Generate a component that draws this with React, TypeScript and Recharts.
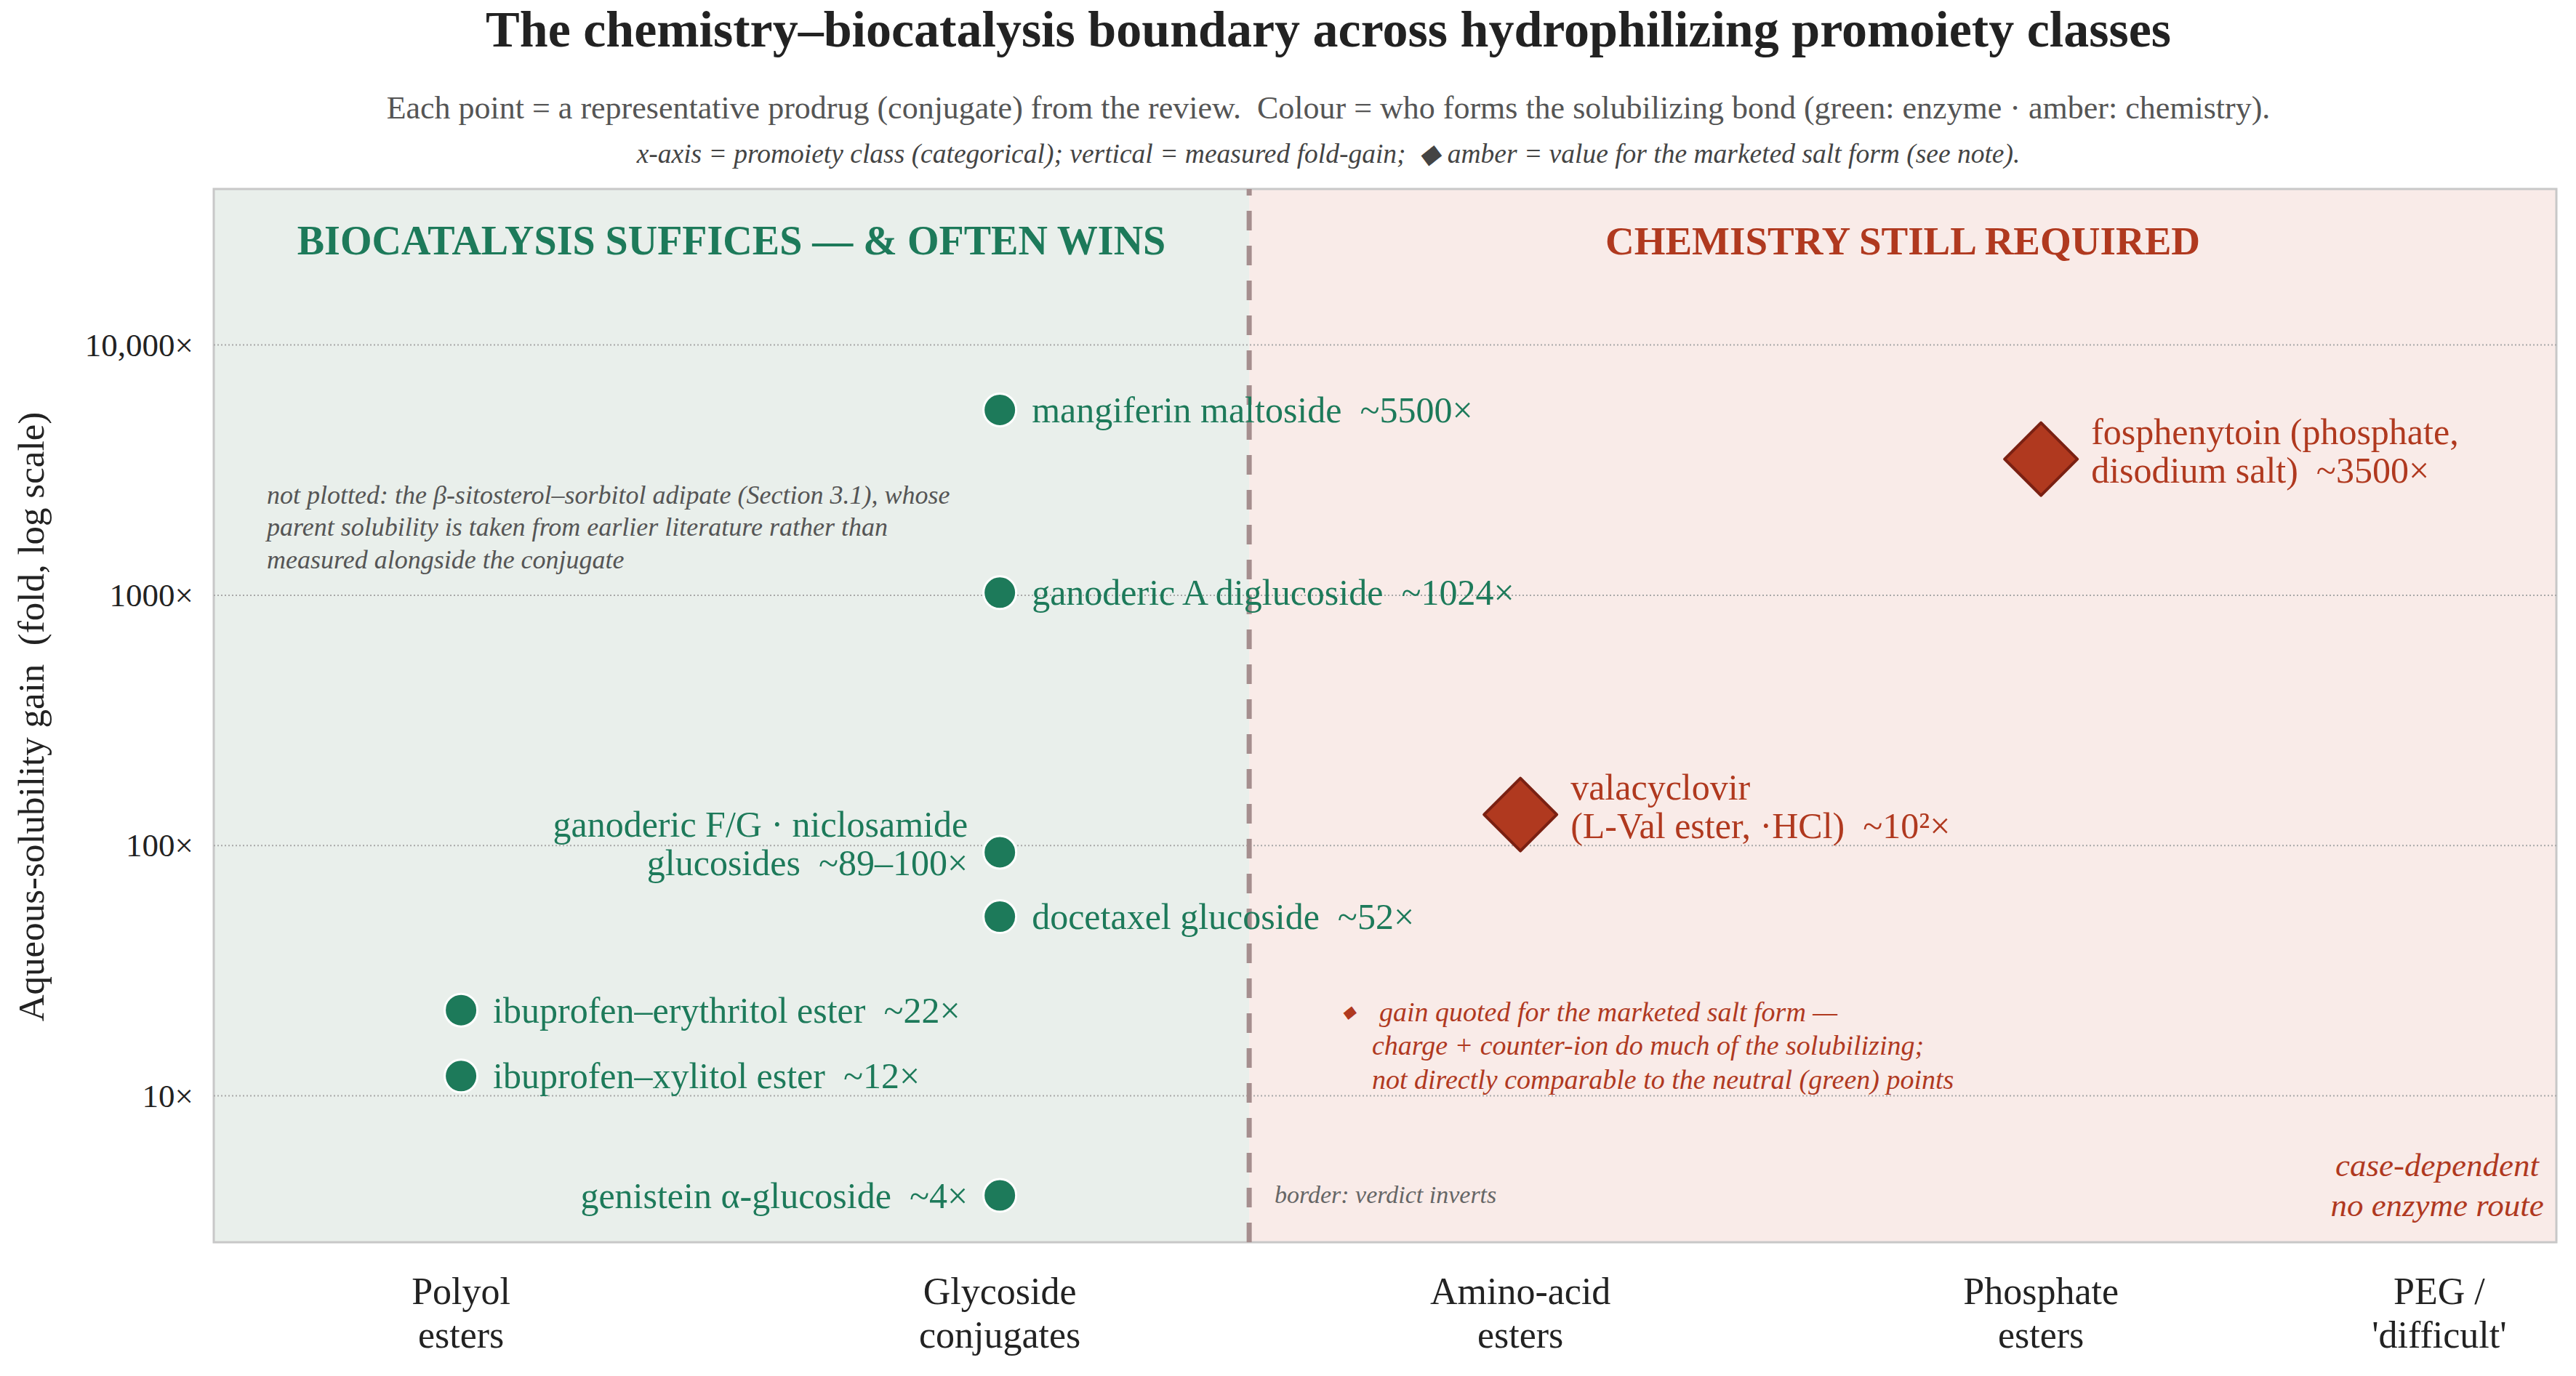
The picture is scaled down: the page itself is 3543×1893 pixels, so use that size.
import React from "react";
import { ScatterChart, Scatter, XAxis, YAxis, ReferenceArea, ReferenceLine } from "recharts";

const W = 3543;
const H = 1893;
const SERIF = "'Liberation Serif', 'Times New Roman', serif";
const GREEN = "#1d7a5a";
const RED = "#b0391f";
const INK = "#222222";
const PRE = { whiteSpace: "pre" } as const;

// promoiety classes (x is categorical, PEG sits a little closer in)
const categories = ["Polyol\nesters", "Glycoside\nconjugates", "Amino-acid\nesters", "Phosphate\nesters", "PEG /\n'difficult'"];
const categoryX = [-0.035, 1, 2, 3, 3.765];

// enzyme-formed conjugates (green); class = index into categories
const enzymeClass = [1, 1, 1, 1, 0, 0, 1];
const enzymeGain = [5500, 1024, 94, 52, 22, 12, 4];
const enzymeLabels = [
  ["mangiferin maltoside  ~5500×"],
  ["ganoderic A diglucoside  ~1024×"],
  ["ganoderic F/G · niclosamide", "glucosides  ~89–100×"],
  ["docetaxel glucoside  ~52×"],
  ["ibuprofen–erythritol ester  ~22×"],
  ["ibuprofen–xylitol ester  ~12×"],
  ["genistein α-glucoside  ~4×"],
];
const enzymeLabelSide = ["right", "right", "left", "right", "right", "right", "left"];

// chemistry-formed conjugates (amber, marketed salt form)
const chemClass = [2, 3];
const chemGain = [133, 3500];
const chemLabels = [
  ["valacyclovir", "(L-Val ester, ·HCl)  ~10²×"],
  ["fosphenytoin (phosphate,", "disodium salt)  ~3500×"],
];

const yTicks = [10, 100, 1000, 10000];
const yTickLabels = ["10×", "100×", "1000×", "10,000×"];
const xDomain = [-0.51, 3.99];
const yDomain = [2.6, 42000];
const border = 1.479;

const enzymeData = enzymeGain.map((g, i) => ({
  x: categoryX[enzymeClass[i]],
  y: g,
  lines: enzymeLabels[i],
  side: enzymeLabelSide[i],
}));
const chemData = chemGain.map((g, i) => ({
  x: categoryX[chemClass[i]],
  y: g,
  lines: chemLabels[i],
  side: "right",
}));

function PointLabel({ cx, cy, lines, side, gap, color }: any) {
  const offsets = lines.length === 1 ? [0] : [-38, 15];
  const tx = side === "left" ? cx - gap : cx + gap;
  return (
    <text x={tx} y={cy} textAnchor={side === "left" ? "end" : "start"} fontFamily={SERIF} fontSize={50} fill={color} style={PRE}>
      {lines.map((l: string, i: number) => (
        <tspan key={i} x={tx} y={cy + offsets[i]} dominantBaseline="central">
          {l}
        </tspan>
      ))}
    </text>
  );
}

const GreenDot = (props: any) => {
  const { cx, cy, payload } = props;
  return (
    <g>
      <circle cx={cx} cy={cy} r={22.5} fill={GREEN} stroke="#ffffff" strokeWidth={3} />
      <PointLabel cx={cx} cy={cy} lines={payload.lines} side={payload.side} gap={44} color={GREEN} />
    </g>
  );
};

const AmberDiamond = (props: any) => {
  const { cx, cy, payload } = props;
  const d = 50;
  return (
    <g>
      <polygon
        points={`${cx},${cy - d} ${cx + d},${cy} ${cx},${cy + d} ${cx - d},${cy}`}
        fill={RED}
        stroke="#7a2012"
        strokeWidth={4}
        strokeLinejoin="round"
      />
      <PointLabel cx={cx} cy={cy} lines={payload.lines} side={payload.side} gap={69} color={RED} />
    </g>
  );
};

const CategoryTick = (props: any) => {
  const { x, payload } = props;
  const idx = categoryX.indexOf(payload.value);
  const lines = (categories[idx] || "").split("\n");
  return (
    <text x={x} textAnchor="middle" fontFamily={SERIF} fontSize={52} fill={INK}>
      {lines.map((l, i) => (
        <tspan key={i} x={x} y={1776 + i * 60} dominantBaseline="central">
          {l}
        </tspan>
      ))}
    </text>
  );
};

const GainTick = (props: any) => {
  const { y, payload } = props;
  const idx = yTicks.indexOf(payload.value);
  return (
    <text x={266} y={y} textAnchor="end" dominantBaseline="central" fontFamily={SERIF} fontSize={45} fill={INK}>
      {yTickLabels[idx]}
    </text>
  );
};

export default function App() {
  return (
    <div style={{ position: "absolute", left: 0, top: 0, width: W, height: H, background: "#ffffff" }}>
      <ScatterChart width={W} height={H} margin={{ top: 260, right: 27, bottom: 34, left: 0 }}>
        <XAxis
          type="number"
          dataKey="x"
          domain={xDomain}
          ticks={categoryX}
          tick={CategoryTick}
          tickLine={false}
          axisLine={false}
          height={150}
          allowDataOverflow
        />
        <YAxis
          type="number"
          dataKey="y"
          scale="log"
          domain={yDomain}
          ticks={yTicks}
          tick={GainTick}
          tickLine={false}
          axisLine={false}
          width={294}
          allowDataOverflow
        />
        <ReferenceArea x1={xDomain[0]} x2={border} fill="#e9efeb" fillOpacity={1} stroke="none" ifOverflow="visible" />
        <ReferenceArea x1={border} x2={xDomain[1]} fill="#f9ebe8" fillOpacity={1} stroke="none" ifOverflow="visible" />
        {yTicks.map((t) => (
          <ReferenceLine key={t} y={t} stroke="#a8a8a8" strokeWidth={2} strokeDasharray="2 3" ifOverflow="visible" />
        ))}
        <ReferenceArea
          x1={xDomain[0]}
          x2={xDomain[1]}
          y1={yDomain[0]}
          y2={yDomain[1]}
          fill="none"
          fillOpacity={0}
          stroke="#c8c8c8"
          strokeWidth={3}
          ifOverflow="visible"
        />
        <ReferenceLine x={border} stroke="#a58e8e" strokeWidth={7} strokeDasharray="27 21" ifOverflow="visible" />
        <Scatter data={enzymeData} shape={GreenDot} isAnimationActive={false} />
        <Scatter data={chemData} shape={AmberDiamond} isAnimationActive={false} />
      </ScatterChart>

      <svg
        width={W}
        height={H}
        style={{ position: "absolute", left: 0, top: 0, pointerEvents: "none" }}
        fontFamily={SERIF}
      >
        <text x={1827} y={64} textAnchor="middle" fontSize={70} fontWeight="bold" fill={INK}>
          The chemistry–biocatalysis boundary across hydrophilizing promoiety classes
        </text>
        <text x={1827} y={163} textAnchor="middle" fontSize={44} fill="#555555" style={PRE}>
          {"Each point = a representative prodrug (conjugate) from the review.  Colour = who forms the solubilizing bond (green: enzyme · amber: chemistry)."}
        </text>
        <text x={1827} y={224} textAnchor="middle" fontSize={37.5} fontStyle="italic" fill="#444444" style={PRE}>
          {"x-axis = promoiety class (categorical); vertical = measured fold-gain;  ◆ amber = value for the marketed salt form (see note)."}
        </text>

        <text
          x={43}
          y={986}
          textAnchor="middle"
          dominantBaseline="central"
          fontSize={51}
          fill={INK}
          transform="rotate(-90 43 986)"
          style={PRE}
        >
          {"Aqueous-solubility gain  (fold, log scale)"}
        </text>

        <text x={1006} y={350} textAnchor="middle" fontSize={56} fontWeight="bold" fill={GREEN}>
          BIOCATALYSIS SUFFICES — &amp; OFTEN WINS
        </text>
        <text x={2617} y={350} textAnchor="middle" fontSize={55} fontWeight="bold" fill={RED}>
          CHEMISTRY STILL REQUIRED
        </text>

        <text fontSize={36} fontStyle="italic" fill="#555555">
          <tspan x={367} y={681} dominantBaseline="central">not plotted: the β-sitosterol–sorbitol adipate (Section 3.1), whose</tspan>
          <tspan x={367} y={725} dominantBaseline="central">parent solubility is taken from earlier literature rather than</tspan>
          <tspan x={367} y={770} dominantBaseline="central">measured alongside the conjugate</tspan>
        </text>

        <text fontSize={38} fontStyle="italic" fill={RED}>
          <tspan x={1855} y={1392} fontSize={24} textAnchor="middle" dominantBaseline="central">◆</tspan>
          <tspan x={1897} y={1392} dominantBaseline="central">gain quoted for the marketed salt form —</tspan>
          <tspan x={1887} y={1438} dominantBaseline="central">charge + counter-ion do much of the solubilizing;</tspan>
          <tspan x={1887} y={1485} dominantBaseline="central">not directly comparable to the neutral (green) points</tspan>
        </text>

        <text x={1753} y={1643} dominantBaseline="central" fontSize={34} fontStyle="italic" fill="#666666">
          border: verdict inverts
        </text>

        <text fontSize={45} fontStyle="italic" fill={RED} textAnchor="middle">
          <tspan x={3352} y={1603} dominantBaseline="central">case-dependent</tspan>
          <tspan x={3352} y={1658} dominantBaseline="central">no enzyme route</tspan>
        </text>
      </svg>
    </div>
  );
}
